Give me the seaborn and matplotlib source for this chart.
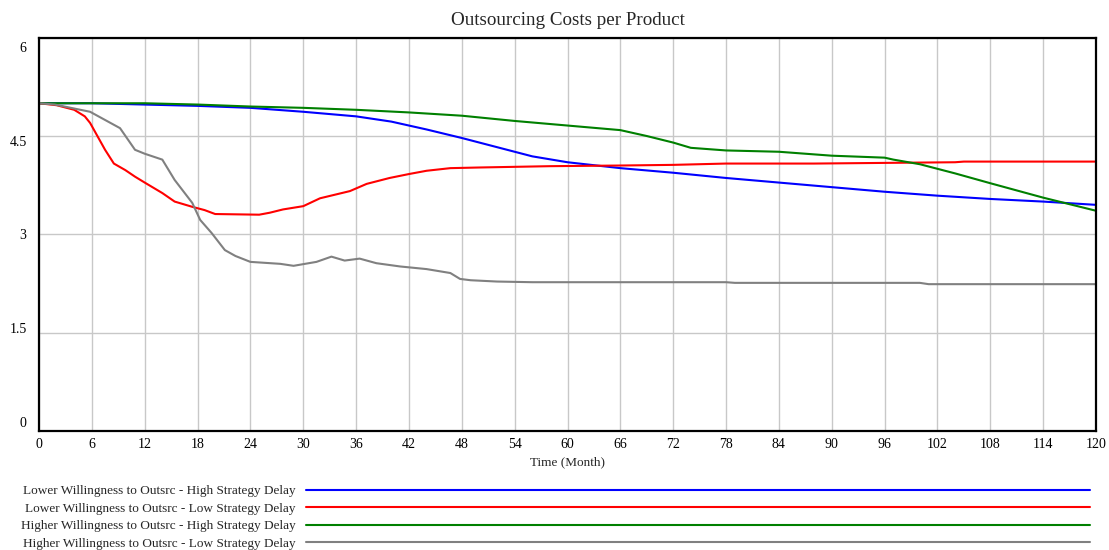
import numpy as np
import pandas as pd
import matplotlib
matplotlib.use("Agg")
import matplotlib.pyplot as plt
import matplotlib.transforms as mtransforms
import seaborn as sns

title = "Outsourcing Costs per Product"
x_label = "Time (Month)"
series_names = [
    "Lower Willingness to Outsrc - High Strategy Delay",
    "Lower Willingness to Outsrc - Low Strategy Delay",
    "Higher Willingness to Outsrc - High Strategy Delay",
    "Higher Willingness to Outsrc - Low Strategy Delay",
]
colors = ["#0000ff", "#ff0000", "#008000", "#808080"]

blue_t = [0, 6, 12, 18, 24, 30, 36, 40, 44, 48, 52, 56, 60, 64, 66, 72, 78, 84, 90, 96, 102, 108, 114, 120]
blue_v = [5.0, 5.0, 4.98, 4.96, 4.93, 4.87, 4.80, 4.72, 4.60, 4.47, 4.33, 4.19, 4.10, 4.04, 4.01, 3.94, 3.86,
          3.79, 3.72, 3.65, 3.59, 3.54, 3.50, 3.45]

red_t = [0, 2, 4, 5.2, 5.8, 7.5, 8.5, 9.8, 10.9, 12, 14, 15.4, 17.4, 18.8, 20, 25, 26.2, 27.7, 30, 31.9, 35.3,
         37.2, 39.8, 42, 44, 46.7, 50, 58, 66, 72, 78, 88, 96, 104, 105, 120]
red_v = [5.0, 4.97, 4.90, 4.80, 4.70, 4.29, 4.08, 3.98, 3.88, 3.79, 3.63, 3.50, 3.42, 3.37, 3.31, 3.30, 3.33,
         3.38, 3.43, 3.55, 3.66, 3.77, 3.86, 3.92, 3.97, 4.01, 4.02, 4.04, 4.05, 4.06, 4.08, 4.08, 4.09, 4.10,
         4.11, 4.11]

green_t = [0, 12, 18, 24, 30, 36, 42, 48, 54, 60, 66, 69, 72, 74, 78, 84, 90, 96, 97, 100, 104, 108, 114, 120]
green_v = [5.0, 5.0, 4.98, 4.95, 4.93, 4.90, 4.86, 4.81, 4.73, 4.66, 4.59, 4.50, 4.40, 4.32, 4.28, 4.26, 4.20,
           4.17, 4.14, 4.07, 3.93, 3.78, 3.56, 3.36]

gray_t = [0, 1.8, 5.8, 9.2, 10.9, 12, 14, 15.4, 17.4, 18.3, 19.6, 21.1, 22.3, 24, 27.4, 28.9, 31.5, 33.2, 34.7,
          36.4, 38.3, 41, 44, 46.7, 47.8, 49, 52, 56, 78, 79, 100, 101, 120]
gray_v = [5.0, 4.98, 4.87, 4.62, 4.29, 4.23, 4.14, 3.83, 3.48, 3.22, 3.02, 2.76, 2.67, 2.58, 2.55, 2.52, 2.58,
          2.66, 2.60, 2.63, 2.56, 2.51, 2.47, 2.41, 2.32, 2.30, 2.28, 2.27, 2.27, 2.26, 2.26, 2.24, 2.24]

x_ticks = list(range(0, 121, 6))
y_ticks = [0, 1.5, 3, 4.5, 6]
y_tick_labels = ["0", "1.5", "3", "4.5", "6"]

frames = []
for name, t, v in zip(series_names, [blue_t, red_t, green_t, gray_t], [blue_v, red_v, green_v, gray_v]):
    frames.append(pd.DataFrame({"Time": t, "Value": v, "Series": name}))
df = pd.concat(frames, ignore_index=True)

sns.set_style("white")
plt.rcParams["font.family"] = ["Liberation Serif", "DejaVu Serif"]

fig = plt.figure(figsize=(11.09, 5.5), dpi=100)
ax = fig.add_axes([39 / 1109, 1 - 431 / 550, (1096 - 39) / 1109, (431 - 37.7) / 550])

sns.lineplot(data=df, x="Time", y="Value", hue="Series", hue_order=series_names,
             palette=dict(zip(series_names, colors)), linewidth=1.5, ax=ax, legend=True,
             estimator=None, sort=False)

ax.set_xlim(0, 120)
ax.set_ylim(0, 6)
ax.set_xticks(x_ticks)
ax.set_xticklabels([str(x) for x in x_ticks])
ax.set_yticks(y_ticks)
ax.set_yticklabels(y_tick_labels)
ax.grid(True, color="#c8c8c8", linewidth=1.0)
ax.set_axisbelow(True)
ax.tick_params(axis="both", length=0, labelsize=10, colors="black")
ax.tick_params(axis="x", pad=5)
ax.tick_params(axis="y", pad=9)
for lab, v in zip(ax.get_yticklabels(), y_ticks):
    off = mtransforms.ScaledTranslation(0, (v - 3) * 3.0 / 100, fig.dpi_scale_trans)
    lab.set_transform(lab.get_transform() - off)
for s in ax.spines.values():
    s.set_visible(True)
    s.set_color("black")
    s.set_linewidth(1.6)
ax.set_xlabel(x_label, fontsize=9.5, labelpad=4)
ax.set_ylabel("")
ax.set_title(title, fontsize=13.7, pad=9)

handles, labels = ax.get_legend_handles_labels()
ax.get_legend().remove()
leg = fig.legend(handles, labels, loc="upper right", bbox_to_anchor=(1090 / 1109, 1 - 485 / 550),
                 frameon=False, fontsize=9.5, markerfirst=False, handlelength=59.4, handletextpad=0.8,
                 labelspacing=0.4, borderpad=0, borderaxespad=0)
for line in leg.get_lines():
    line.set_linewidth(1.5)

fig.savefig("out.png", dpi=100)
